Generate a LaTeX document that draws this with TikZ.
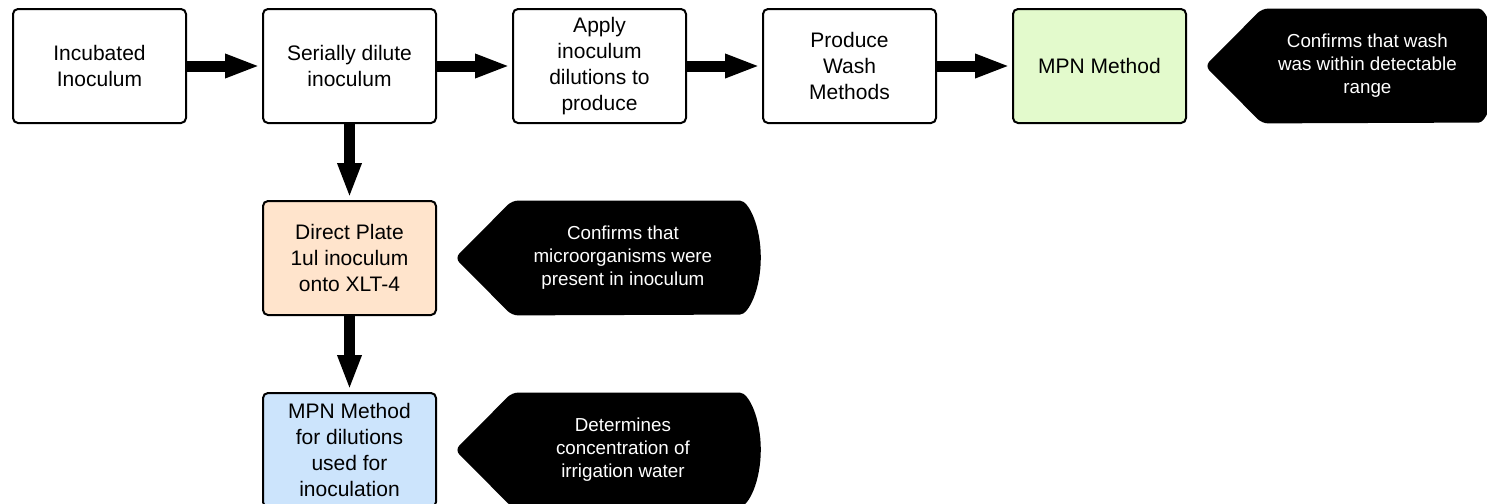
\documentclass[tikz,border=0pt]{standalone}
\usepackage{fontspec}
\setmainfont{Liberation Sans}
\usetikzlibrary{arrows.meta, positioning, backgrounds}
\definecolor{mpngreen}{RGB}{227,250,204}
\definecolor{plateorange}{RGB}{255,228,204}
\definecolor{mpnblue}{RGB}{204,228,252}

\begin{document}
\begin{tikzpicture}[
            x=0.5pt, y=-0.5pt,
            node distance=38pt and 37.5pt,
            stage/.style = {draw, line width=1pt, rounded corners=2.5pt,
                minimum width=86.5pt, minimum height=57pt, inner sep=1pt,
                align=center, font=\fontsize{10.5}{13}\selectfont},
            note/.style = {text=white, minimum width=110.5pt, minimum height=57pt,
                inner sep=1pt, align=center, font=\fontsize{9.4}{11.5}\selectfont},
            flow/.style = {line width=5.5pt, shorten >=1pt,
                -{Triangle[length=17.5pt,width=11pt]}}]
            \useasboundingbox (0,0) rectangle (1487,503);
            % top row
            \node[stage, anchor=north west] (inc) at (12,8) {Incubated\\Inoculum};
            \node[stage, right=of inc] (dil) {Serially dilute\\inoculum};
            \node[stage, right=of dil] (apply) {Apply\\inoculum\\dilutions to\\produce};
            \node[stage, right=of apply] (wash) {Produce\\Wash\\Methods};
            \node[stage, fill=mpngreen, right=of wash] (mpn) {MPN Method};
            \node[note, minimum width=105pt, right=of mpn] (range) {Confirms that wash\\was within detectable\\range};
            % second column
            \node[stage, fill=plateorange, below=of dil] (plate) {Direct Plate\\1ul inoculum\\onto XLT-4};
            \node[note, right=of plate] (present) {Confirms that\\microorganisms were\\present in inoculum};
            \node[stage, fill=mpnblue, below=of plate] (mpnused) {MPN Method\\for dilutions\\used for\\inoculation};
            \node[note, right=of mpnused] (conc) {Determines\\concentration of\\irrigation water};
            % connectors
            \draw[flow] (inc) -- (dil);
            \draw[flow] (dil) -- (apply);
            \draw[flow] (apply) -- (wash);
            \draw[flow] (wash) -- (mpn);
            \draw[flow] (dil) -- (plate);
            \draw[flow] (plate) -- (mpnused);
            % callout shapes
            \begin{scope}[on background layer]
                \foreach \c/\rx in {range/12pt, present/13.5pt, conc/13.5pt}
                    \fill[rounded corners=3pt] ([xshift=-28.5pt]\c.west) -- (\c.north west)
                        -- (\c.north east)
                        arc[start angle=90, end angle=-90, x radius=\rx, y radius=28.5pt]
                        -- (\c.south west) -- cycle;
            \end{scope}
        \end{tikzpicture}
\end{document}
